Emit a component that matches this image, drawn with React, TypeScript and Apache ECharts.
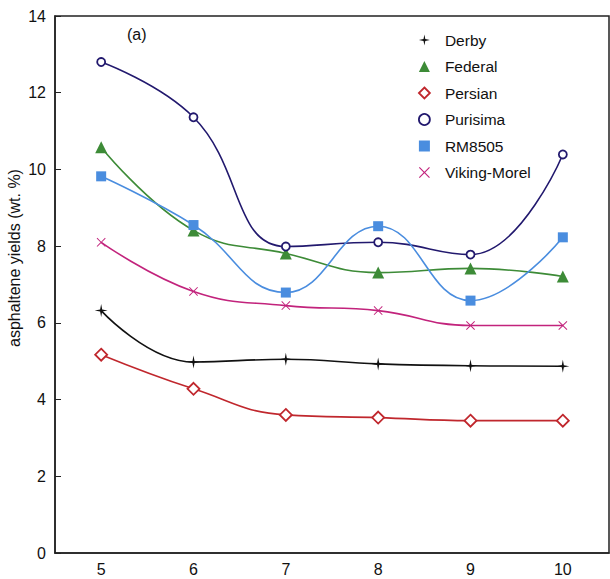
import React, { useEffect, useRef } from "react";
import * as echarts from "echarts";

const categories = ["5", "6", "7", "8", "9", "10"];
const derby = [6.32, 4.98, 5.05, 4.93, 4.88, 4.87];
const federal = [10.58, 8.41, 7.81, 7.31, 7.42, 7.21];
const persian = [5.17, 4.28, 3.6, 3.53, 3.45, 3.45];
const purisima = [12.8, 11.36, 7.99, 8.1, 7.78, 10.39];
const rm8505 = [9.82, 8.55, 6.79, 8.52, 6.58, 8.23];
const vikingMorel = [8.1, 6.82, 6.45, 6.32, 5.93, 5.93];

const STAR = "path://M0,-10 L1.6,-1.6 L10,0 L1.6,1.6 L0,10 L-1.6,1.6 L-10,0 L-1.6,-1.6 Z";
const CROSS =
  "path://M-10,-8.5 L-8.5,-10 L0,-1.5 L8.5,-10 L10,-8.5 L1.5,0 L10,8.5 L8.5,10 L0,1.5 L-8.5,10 L-10,8.5 L-1.5,0 Z";

const C_DERBY = "#111111";
const C_FEDERAL = "#3d8b37";
const C_PERSIAN = "#c0272d";
const C_PURISIMA = "#22196e";
const C_RM = "#4a8ddf";
const C_VIKING = "#c2237c";

export default function App() {
  const ref = useRef<HTMLDivElement>(null);
  useEffect(() => {
    if (!ref.current) return;
    const chart = echarts.init(ref.current, undefined, { renderer: "svg" });
    const font = "Liberation Sans, Arial, sans-serif";
    const mk = (
      name: string,
      data: number[],
      color: string,
      symbol: string,
      size: number,
      hollow: boolean
    ) => ({
      name,
      type: "line",
      data,
      smooth: 0.45,
      symbol,
      symbolSize: size,
      showAllSymbol: true,
      lineStyle: { color, width: 1.6 },
      itemStyle: hollow
        ? { color: "#fff", borderColor: color, borderWidth: 1.8 }
        : { color, borderColor: color, borderWidth: 0 },
      color,
      z: 3,
    });
    chart.setOption({
      animation: false,
      textStyle: { fontFamily: font },
      grid: {
        left: 55,
        right: 1,
        top: 16,
        bottom: 26,
        outerBoundsMode: "none",
        containLabel: false,
        show: true,
        borderColor: "#222",
        borderWidth: 1.5,
        backgroundColor: "transparent",
      },
      legend: {
        orient: "vertical",
        left: 413,
        top: 27,
        itemWidth: 11,
        itemHeight: 11,
        itemGap: 10.5,
        textStyle: { fontSize: 15.5, color: "#111", fontFamily: font, padding: [0, 0, 0, 10] },
        data: [
          { name: "Derby", icon: STAR, itemStyle: { color: C_DERBY } },
          { name: "Federal", icon: "triangle", itemStyle: { color: C_FEDERAL } },
          {
            name: "Persian",
            icon: "diamond",
            itemStyle: { color: "#fff", borderColor: C_PERSIAN, borderWidth: 1.8 },
          },
          {
            name: "Purisima",
            icon: "circle",
            itemStyle: { color: "#fff", borderColor: C_PURISIMA, borderWidth: 1.8 },
          },
          { name: "RM8505", icon: "rect", itemStyle: { color: C_RM } },
          { name: "Viking-Morel", icon: CROSS, itemStyle: { color: C_VIKING } },
        ],
      },
      graphic: [
        {
          type: "text",
          left: 127,
          top: 26,
          style: { text: "(a)", fontSize: 16, fill: "#111", fontFamily: font },
        },
        {
          type: "text",
          x: 14,
          y: 258,
          rotation: Math.PI / 2,
          style: {
            text: "asphaltene yields (wt. %)",
            fontSize: 16,
            fill: "#111",
            fontFamily: font,
            align: "center",
            verticalAlign: "middle",
          },
        },
      ],
      xAxis: {
        type: "category",
        data: categories,
        boundaryGap: true,
        axisLine: { lineStyle: { color: "#222", width: 1.5 } },
        axisTick: { alignWithLabel: true, inside: true, length: 6, lineStyle: { color: "#222" } },
        axisLabel: { fontSize: 16, color: "#111", margin: 8 },
        splitLine: { show: false },
      },
      yAxis: {
        type: "value",
        min: 0,
        max: 14,
        interval: 2,
        axisLine: { show: true, lineStyle: { color: "#222", width: 1.5 } },
        axisTick: { show: true, inside: true, length: 6, lineStyle: { color: "#222" } },
        axisLabel: { fontSize: 16, color: "#111", margin: 9 },
        splitLine: { show: false },
      },
      series: [
        mk("Derby", derby, C_DERBY, STAR, 13, false),
        mk("Federal", federal, C_FEDERAL, "triangle", 12, false),
        mk("Persian", persian, C_PERSIAN, "diamond", 12, true),
        mk("Purisima", purisima, C_PURISIMA, "circle", 8, true),
        mk("RM8505", rm8505, C_RM, "rect", 10, false),
        mk("Viking-Morel", vikingMorel, C_VIKING, CROSS, 9, false),
      ],
    });
    return () => chart.dispose();
  }, []);
  return (
    <div
      ref={ref}
      style={{ position: "absolute", left: 0, top: 0, width: 610, height: 579 }}
    />
  );
}
